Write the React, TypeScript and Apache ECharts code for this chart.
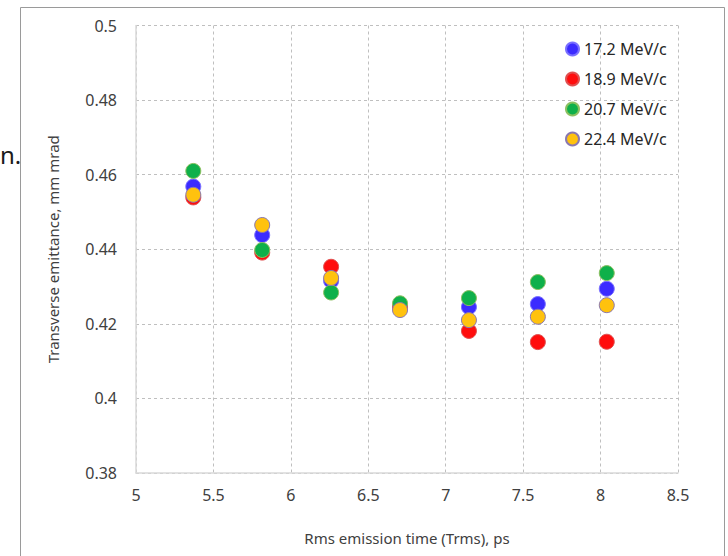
import React, { useEffect, useRef } from "react";
import * as echarts from "echarts";

const xValues = [5.37, 5.815, 6.26, 6.705, 7.15, 7.595, 8.04];
const seriesNames = ["17.2 MeV/c", "18.9 MeV/c", "20.7 MeV/c", "22.4 MeV/c"];
const blueValues = [0.4568, 0.4438, 0.4315, 0.4248, 0.4245, 0.4253, 0.4294];
const redValues = [0.4539, 0.4391, 0.4353, 0.4245, 0.4181, 0.4151, 0.4152];
const greenValues = [0.461, 0.4398, 0.4284, 0.4255, 0.4269, 0.4312, 0.4336];
const yellowValues = [0.4546, 0.4465, 0.4323, 0.4237, 0.421, 0.4219, 0.425];
const xTitle = "Rms emission time (Trms), ps";
const yTitle = "Transverse emittance, mm mrad";

const fills = ["#3b2bff", "#ff0d0d", "#0fb04a", "#ffc20e"];
const borders = ["#7a70ff", "#e05050", "#8cc060", "#8a78b0"];

export default function App() {
  const ref = useRef<HTMLDivElement>(null);
  useEffect(() => {
    document.body.style.margin = "0";
    if (!ref.current) return;
    const chart = echarts.init(ref.current, undefined, { renderer: "svg" });
    const all = [blueValues, redValues, greenValues, yellowValues];
    const font = "'Noto Sans', 'Open Sans', sans-serif";
    chart.setOption({
      animation: false,
      backgroundColor: "#ffffff",
      textStyle: { fontFamily: font },
      grid: { left: 136, right: 50, top: 25.5, bottom: 83, containLabel: false },
      graphic: [
        {
          type: "rect",
          shape: { x: 20.5, y: 7.5, width: 704, height: 560 },
          style: { fill: "none", stroke: "#9a9a9a", lineWidth: 1 },
          silent: true,
        },
        {
          type: "text",
          x: 0,
          y: 142,
          style: { text: "n.", fontSize: 24, fontFamily: font, fill: "#1a1a1a" },
          silent: true,
        },
      ],
      legend: {
        orient: "vertical",
        left: 560,
        top: 35,
        icon: "circle",
        itemWidth: 13,
        itemHeight: 13,
        itemGap: 12,
        textStyle: { fontSize: 16, color: "#262626", fontFamily: font, lineHeight: 18 },
        data: seriesNames,
      },
      xAxis: {
        type: "value",
        min: 5,
        max: 8.5,
        interval: 0.5,
        name: xTitle,
        nameLocation: "middle",
        nameGap: 57,
        nameTextStyle: { fontSize: 15, color: "#404040", fontFamily: font },
        axisLine: { show: true, lineStyle: { color: "#d9d9d9", width: 1.5 } },
        axisTick: { show: false },
        axisLabel: { fontSize: 16, color: "#404040", margin: 14, fontFamily: font },
        splitLine: { show: true, lineStyle: { color: "#bfbfbf", type: [3, 3] } },
      },
      yAxis: {
        type: "value",
        min: 0.38,
        max: 0.5,
        interval: 0.02,
        name: yTitle,
        nameLocation: "middle",
        nameGap: 76,
        nameTextStyle: { fontSize: 15, color: "#404040", fontFamily: font },
        axisLine: { show: true, lineStyle: { color: "#d9d9d9", width: 1.5 } },
        axisTick: { show: false },
        axisLabel: {
          fontSize: 16,
          color: "#404040",
          margin: 19,
          fontFamily: font,
          formatter: (v: number) => String(+v.toFixed(2)),
        },
        splitLine: { show: true, lineStyle: { color: "#bfbfbf", type: [3, 3] } },
      },
      series: seriesNames.map((name, i) => ({
        name,
        type: "scatter",
        symbol: "circle",
        symbolSize: 15,
        itemStyle: { color: fills[i], borderColor: borders[i], borderWidth: 1, opacity: 1 },
        data: xValues.map((x, j) => [x, all[i][j]]),
      })),
    });
    return () => chart.dispose();
  }, []);
  return <div ref={ref} style={{ width: 728, height: 556 }} />;
}
